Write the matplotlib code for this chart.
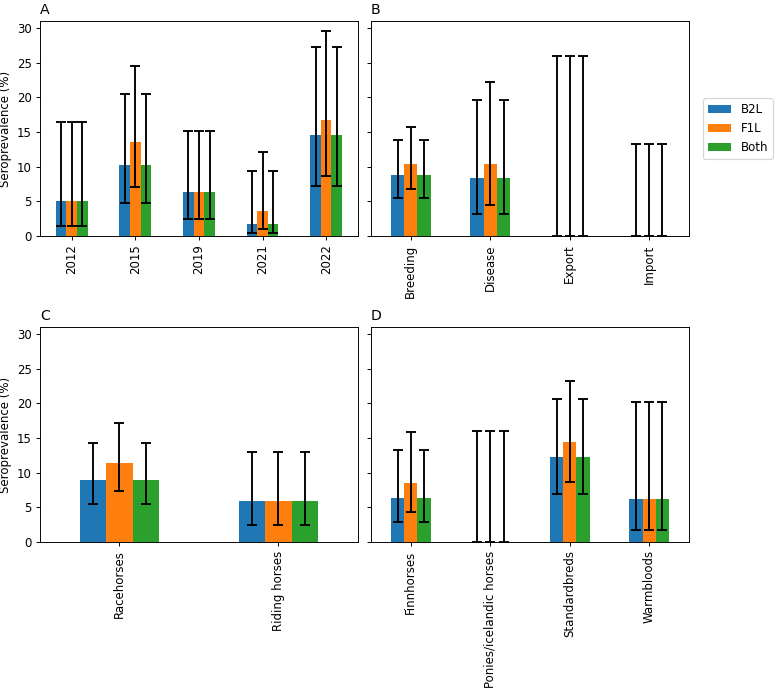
import numpy as np
import matplotlib
matplotlib.use('Agg')
import matplotlib.pyplot as plt

series = ['B2L', 'F1L', 'Both']
colors = ['#1f77b4', '#ff7f0e', '#2ca02c']

# Panel A - sampling year
years = ['2012', '2015', '2019', '2021', '2022']
year_val = [[5.0, 10.2, 6.3, 1.8, 14.6],
            [5.0, 13.5, 6.3, 3.6, 16.7],
            [5.0, 10.2, 6.3, 1.8, 14.6]]
year_lo = [[1.4, 4.7, 2.5, 0.4, 7.2],
           [1.4, 7.0, 2.5, 1.0, 8.7],
           [1.4, 4.7, 2.5, 0.4, 7.2]]
year_hi = [[16.5, 20.5, 15.2, 9.4, 27.2],
           [16.5, 24.5, 15.2, 12.1, 29.6],
           [16.5, 20.5, 15.2, 9.4, 27.2]]

# Panel B - reason for sampling
reasons = ['Breeding', 'Disease', 'Export', 'Import']
reason_val = [[8.8, 8.3, 0.0, 0.0],
              [10.4, 10.4, 0.0, 0.0],
              [8.8, 8.3, 0.0, 0.0]]
reason_lo = [[5.5, 3.2, 0.0, 0.0],
             [6.8, 4.5, 0.0, 0.0],
             [5.5, 3.2, 0.0, 0.0]]
reason_hi = [[13.8, 19.6, 25.9, 13.3],
             [15.7, 22.2, 25.9, 13.3],
             [13.8, 19.6, 25.9, 13.3]]

# Panel C - use
uses = ['Racehorses', 'Riding horses']
use_val = [[9.0, 5.9], [11.4, 5.9], [9.0, 5.9]]
use_lo = [[5.5, 2.5], [7.4, 2.5], [5.5, 2.5]]
use_hi = [[14.3, 13.0], [17.1, 13.0], [14.3, 13.0]]

# Panel D - breed
breeds = ['Finnhorses', 'Ponies/icelandic horses', 'Standardbreds', 'Warmbloods']
breed_val = [[6.3, 0.0, 12.2, 6.2],
             [8.5, 0.0, 14.4, 6.2],
             [6.3, 0.0, 12.2, 6.2]]
breed_lo = [[2.9, 0.0, 6.9, 1.7],
            [4.4, 0.0, 8.7, 1.7],
            [2.9, 0.0, 6.9, 1.7]]
breed_hi = [[13.2, 16.0, 20.6, 20.2],
            [15.9, 16.0, 23.2, 20.2],
            [13.2, 16.0, 20.6, 20.2]]


def bar_panel(ax, cats, vals, los, his, letter):
    x = np.arange(len(cats))
    w = 0.5 / len(series)
    for i, name in enumerate(series):
        v = np.array(vals[i])
        err = [v - np.array(los[i]), np.array(his[i]) - v]
        ax.bar(x + (i - 1) * w, v, w, color=colors[i], label=name,
               yerr=err, capsize=4,
               error_kw=dict(elinewidth=1.6, capthick=1.6, ecolor='black'))
    ax.set_xticks(x)
    ax.set_xticklabels(cats, rotation=90)
    ax.set_xlim(-0.5, len(cats) - 0.5)
    ax.set_title(letter, loc='left')


fig, axes = plt.subplots(2, 2, figsize=(778 / 85, 691 / 85), dpi=85, sharey=True)
plt.subplots_adjust(left=0.0514, right=0.8856, top=0.9696, bottom=0.2156,
                    wspace=0.041, hspace=0.423)

bar_panel(axes[0, 0], years, year_val, year_lo, year_hi, 'A')
bar_panel(axes[0, 1], reasons, reason_val, reason_lo, reason_hi, 'B')
bar_panel(axes[1, 0], uses, use_val, use_lo, use_hi, 'C')
bar_panel(axes[1, 1], breeds, breed_val, breed_lo, breed_hi, 'D')

axes[0, 0].set_ylim(0, 31)
axes[0, 0].set_yticks([0, 5, 10, 15, 20, 25, 30])
axes[0, 0].set_ylabel('Seroprevalence (%)')
axes[1, 0].set_ylabel('Seroprevalence (%)')

axes[0, 1].legend(loc='center left', bbox_to_anchor=(1.025, 0.5))

fig.savefig('out.png', dpi=85)
